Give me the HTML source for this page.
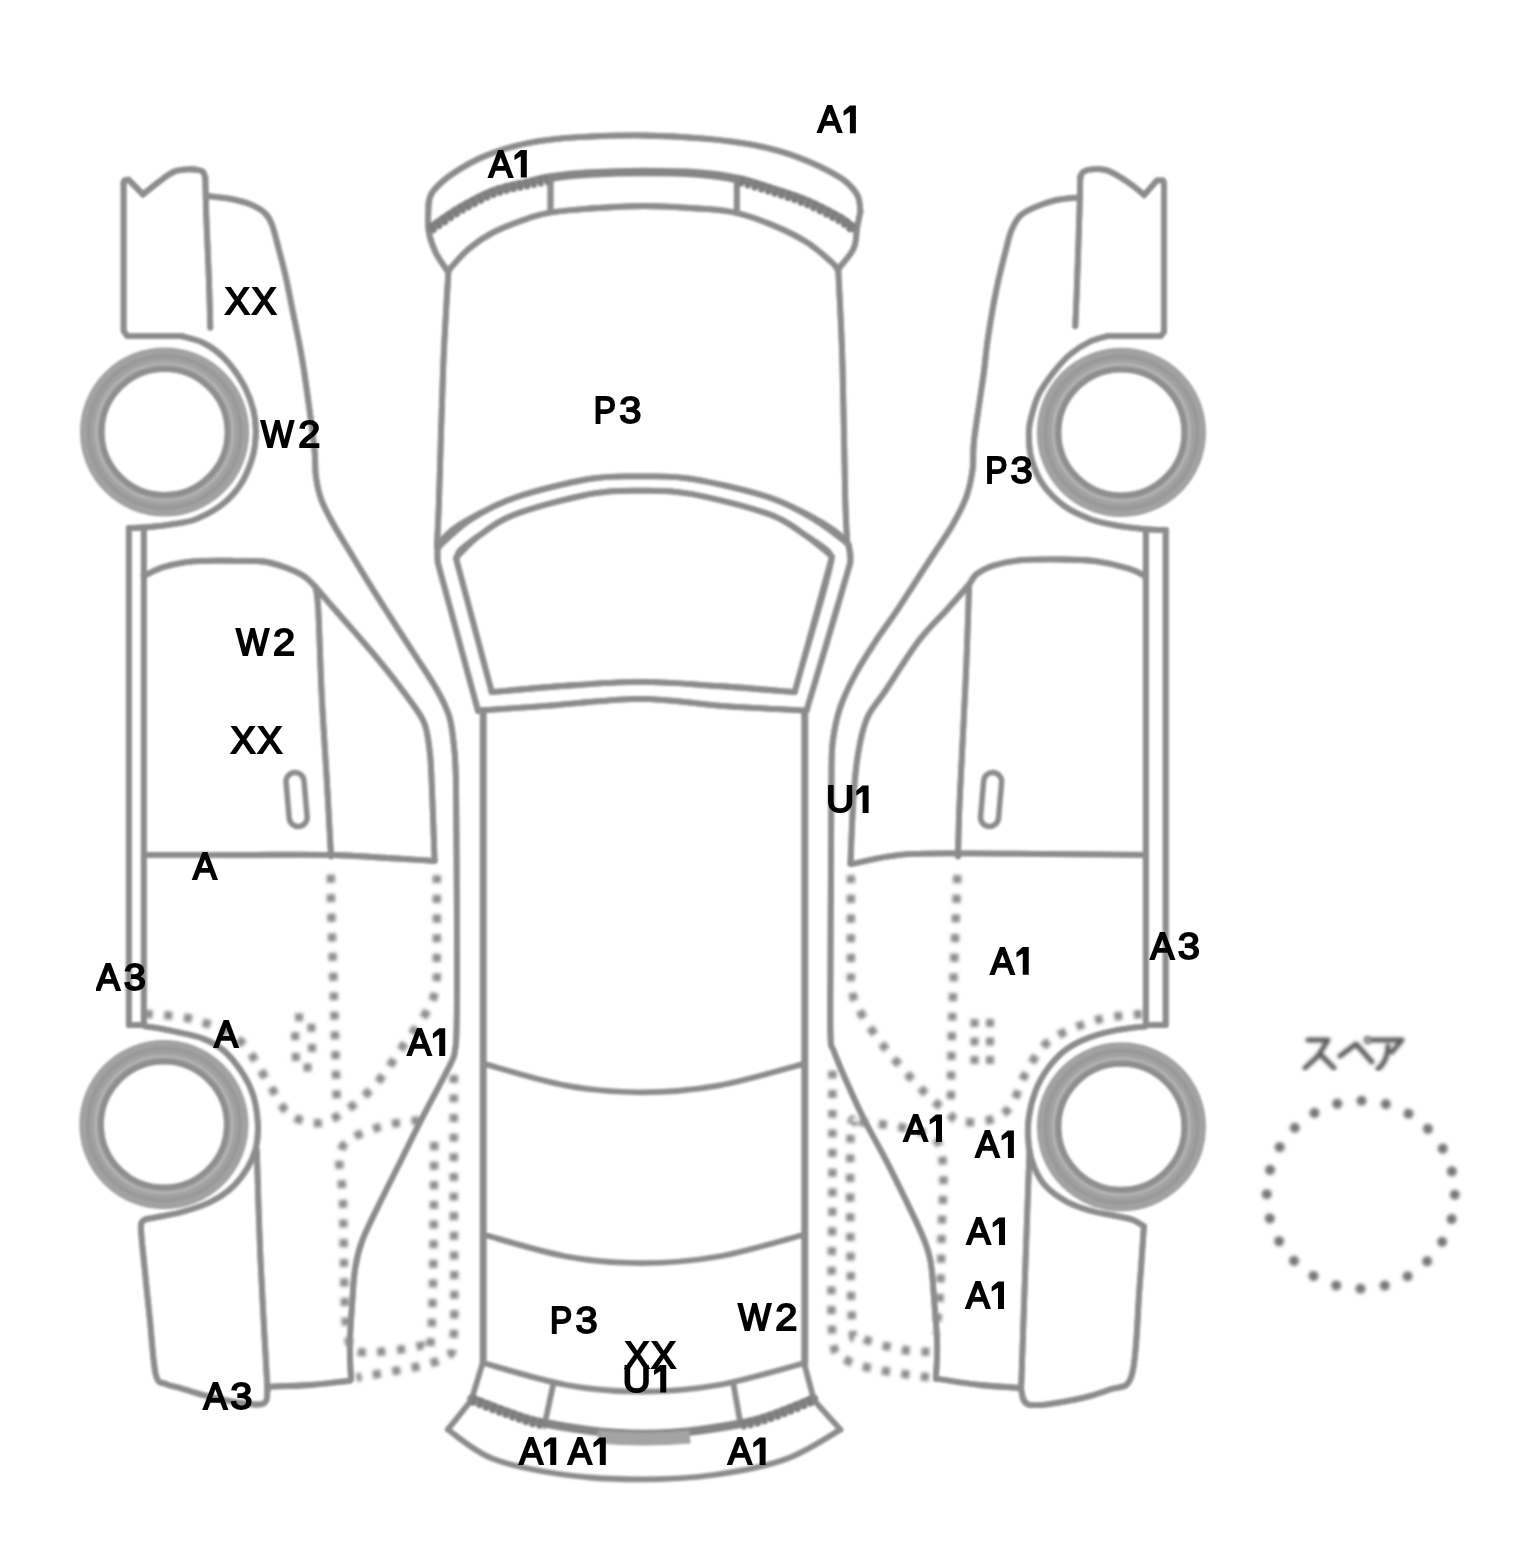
<!DOCTYPE html>
<html><head><meta charset="utf-8"><title>Car diagram</title>
<style>
html,body{margin:0;padding:0;background:#fff;}
body{width:1536px;height:1568px;overflow:hidden;position:relative;font-family:"Liberation Sans",sans-serif;}
svg{position:absolute;left:0;top:0;display:block;}
.lb{font-family:"Liberation Sans",sans-serif;font-weight:normal;font-size:37.35px;fill:#000;}
.lb text{stroke:#000;stroke-width:1.9px;vector-effect:non-scaling-stroke;}
</style></head><body>
<svg width="1536" height="1568" viewBox="0 0 1536 1568">
<defs><filter id="bl" x="-5%" y="-5%" width="110%" height="110%"><feGaussianBlur stdDeviation="1.2"/></filter><filter id="gs" x="0" y="0" width="1" height="1"><feOffset dx="0" dy="0"/></filter><filter id="bd" x="-5%" y="-5%" width="110%" height="110%"><feGaussianBlur stdDeviation="1.5"/></filter></defs>
<g filter="url(#bl)" fill="none" stroke-linecap="round" stroke-linejoin="round">

<g stroke="#8c8c8c" stroke-width="5.8">
<path d="M210.3 327.7 C210.1 319.6 209.4 293.0 208.9 278.9 C208.4 264.8 207.9 255.0 207.4 243.1 C206.9 231.2 206.3 218.3 206.0 207.3 C205.7 196.3 205.4 182.2 205.3 177.2"/>
<path d="M205.3 178.0 C205.0 177.1 204.3 173.8 203.5 172.5 C202.7 171.2 202.8 171.0 200.3 170.5 C197.9 170.0 193.1 169.1 188.8 169.3 C184.5 169.5 179.3 169.6 174.5 171.5 C169.7 173.4 165.4 177.0 160.2 180.8 C154.9 184.6 145.9 192.1 143.0 194.4"/>
<path d="M143.0 194.4 L128.5 179.6 L124.2 180.6 L123.6 183.0"/>
<path d="M123.6 183.0 L123.6 331.0 L127.5 336.2 L181.8 336.2"/>
<path d="M181.8 336.2 C185.4 337.3 196.1 339.1 203.3 342.9 C210.5 346.6 218.1 351.8 224.8 358.7 C231.5 365.6 238.6 375.8 243.4 384.4 C248.2 393.0 251.3 402.1 253.4 410.2 C255.5 418.3 256.0 425.1 255.8 433.2 C255.6 441.3 254.6 450.3 252.0 458.9 C249.4 467.5 245.5 477.0 240.5 484.7 C235.5 492.4 229.3 499.1 221.9 504.8 C214.5 510.5 204.0 515.9 196.1 519.1 C188.2 522.3 182.3 522.6 174.6 523.9 C166.9 525.2 157.6 526.3 150.0 527.0 C142.4 527.7 132.3 528.0 128.8 528.2"/>
<path d="M128.8 528.2 L128.8 1025.0 L143.8 1025.0"/>
<path d="M143.8 531.0 L143.8 1025.0"/>
<path d="M206.0 195.8 C209.8 196.3 221.5 197.3 228.9 198.7 C236.3 200.1 244.4 202.0 250.4 204.4 C256.4 206.8 261.2 209.7 264.8 213.0 C268.4 216.3 269.5 218.3 271.9 224.5 C274.3 230.7 276.7 241.2 279.1 250.3 C281.5 259.4 284.1 269.3 286.2 278.9 C288.3 288.4 289.6 295.7 292.0 307.6 C294.4 319.6 298.4 338.4 300.6 350.6 C302.9 362.8 303.2 364.7 305.5 381.0 C307.8 397.3 312.7 432.8 314.4 448.6 C316.1 464.4 314.6 467.2 315.8 475.8 C317.0 484.4 318.4 491.8 321.5 500.2 C324.6 508.6 329.4 516.9 334.4 526.0 C339.4 535.1 345.4 544.3 351.6 554.6 C357.8 564.9 365.0 576.9 371.7 587.6 C378.4 598.4 384.8 608.2 391.7 619.1 C398.6 630.0 405.9 641.1 413.4 652.7 C420.9 664.4 430.6 678.5 436.5 689.0 C442.4 699.5 446.2 706.8 449.0 715.6 C451.8 724.4 452.4 732.1 453.5 742.0 C454.6 751.9 455.3 755.3 455.8 775.0 C456.3 794.7 456.4 827.5 456.6 860.0 C456.8 892.5 457.0 941.3 457.0 970.0 C457.0 998.7 456.8 1018.7 456.5 1032.0 C456.2 1045.3 456.0 1044.7 455.0 1050.0 C454.0 1055.3 456.0 1052.6 450.6 1063.8 C445.2 1075.0 430.6 1101.7 422.5 1117.4 C414.4 1133.1 408.9 1144.6 402.1 1158.2 C395.3 1171.8 388.3 1185.5 381.7 1199.1 C375.1 1212.7 366.9 1228.4 362.5 1239.9 C358.1 1251.4 356.9 1256.9 355.2 1268.0 C353.4 1279.1 352.9 1293.5 352.0 1306.3 C351.1 1319.1 350.0 1332.5 349.8 1344.6 C349.6 1356.7 350.8 1373.3 351.0 1379.0"/>
<path d="M143.6 575.9 C146.8 574.5 156.2 569.6 163.0 567.3 C169.8 565.0 177.3 563.4 184.5 562.3 C191.7 561.2 197.7 561.0 206.0 560.8 C214.3 560.5 225.0 560.7 234.6 560.8 C244.2 560.9 254.9 560.4 263.3 561.5 C271.7 562.6 278.1 564.9 284.8 567.3 C291.5 569.7 298.3 572.6 303.4 575.9 C308.5 579.2 313.5 585.1 315.5 587.0"/>
<path d="M315.5 587.0 C316.0 590.8 317.3 592.1 318.3 610.0 C319.3 627.9 320.3 666.3 321.7 694.6 C323.1 722.9 325.2 753.0 326.8 780.0 C328.4 807.0 330.3 843.7 331.0 856.4"/>
<path d="M315.5 587.0 C318.8 590.8 324.7 597.7 335.3 610.0 C345.9 622.3 366.3 645.0 379.3 660.8 C392.3 676.6 405.5 694.1 413.1 704.8 C420.7 715.5 422.2 716.9 425.0 725.1 C427.8 733.3 428.8 743.1 430.0 753.9 C431.2 764.7 431.2 772.1 432.0 790.0 C432.8 807.9 434.2 849.2 434.6 861.0"/>
<path d="M143.9 854.9 C159.9 854.9 209.1 855.0 240.0 855.0 C270.9 855.0 297.1 853.9 329.5 854.9 C361.9 855.9 416.9 859.9 434.4 860.9"/>
<path d="M143.8 1025.8 C148.9 1026.8 164.7 1029.3 174.6 1031.5 C184.5 1033.7 194.9 1035.4 203.3 1038.7 C211.7 1042.0 218.1 1045.5 224.8 1051.5 C231.5 1057.5 238.6 1067.1 243.4 1074.5 C248.2 1081.9 251.0 1088.1 253.4 1096.0 C255.8 1103.9 257.2 1113.4 257.7 1121.7 C258.2 1130.0 258.0 1138.4 256.3 1146.1 C254.6 1153.8 251.8 1160.7 247.7 1167.6 C243.6 1174.5 238.1 1182.0 231.9 1187.7 C225.7 1193.4 218.8 1198.0 210.4 1202.0 C202.1 1206.0 192.5 1209.1 181.8 1212.0 C171.1 1214.9 152.0 1218.0 146.0 1219.2"/>
<path d="M146.0 1219.2 C145.2 1220.3 141.3 1218.9 141.0 1226.0 C140.7 1233.1 142.5 1246.5 144.0 1262.0 C145.5 1277.5 147.8 1300.2 149.8 1319.0 C151.8 1337.8 153.1 1363.8 155.8 1374.6 C158.5 1385.4 162.0 1381.8 166.0 1384.0 C170.0 1386.2 173.8 1386.2 180.0 1388.0 C186.2 1389.8 193.8 1392.7 203.0 1395.0 C212.2 1397.3 225.8 1400.4 235.0 1402.0 C244.2 1403.6 252.8 1404.7 258.0 1404.5 C263.2 1404.3 264.4 1403.5 266.0 1401.0 C267.6 1398.5 267.2 1391.5 267.5 1389.6"/>
<path d="M267.5 1389.6 C266.3 1367.9 262.3 1299.3 260.5 1259.4 C258.7 1219.5 257.4 1168.2 256.8 1150.0"/>
<path d="M267.5 1386.6 C274.6 1386.3 296.2 1386.0 310.0 1385.0 C323.8 1384.0 343.8 1381.3 350.5 1380.6"/>
<path d="M1075.3 326.2 C1075.5 320.7 1076.2 305.9 1076.7 293.3 C1077.2 280.7 1077.7 264.6 1078.2 250.3 C1078.7 236.0 1079.2 219.5 1079.6 207.3 C1079.9 195.1 1080.2 182.2 1080.3 177.2"/>
<path d="M1080.3 178.0 C1080.5 177.3 1080.9 175.1 1081.5 174.0 C1082.1 172.9 1082.3 172.1 1084.0 171.3 C1085.7 170.5 1088.1 169.5 1091.8 169.3 C1095.5 169.1 1101.3 168.8 1106.1 170.1 C1110.9 171.4 1115.6 174.3 1120.4 177.2 C1125.2 180.0 1130.8 184.2 1134.8 187.2 C1138.8 190.2 1142.5 193.8 1144.1 195.1"/>
<path d="M1144.1 195.1 L1157.0 180.4 L1163.0 180.4 L1164.0 183.0 L1164.0 332.0 L1160.5 336.2 L1107.4 336.2"/>
<path d="M1107.4 336.2 C1104.5 337.1 1096.4 338.5 1090.2 341.5 C1084.0 344.5 1076.4 349.1 1070.2 354.4 C1064.0 359.6 1058.2 366.3 1053.0 373.0 C1047.8 379.7 1042.3 387.3 1038.7 394.5 C1035.1 401.7 1033.2 409.6 1031.5 416.0 C1029.8 422.4 1028.8 426.1 1028.8 433.2 C1028.8 440.3 1029.1 450.3 1031.5 458.9 C1033.9 467.5 1037.5 476.8 1043.0 484.7 C1048.5 492.6 1056.5 500.5 1064.4 506.2 C1072.3 511.9 1082.1 516.0 1090.2 519.1 C1098.3 522.2 1104.1 523.1 1113.2 524.8 C1122.3 526.5 1136.0 528.2 1144.7 529.1 C1153.5 530.0 1162.2 529.9 1165.7 530.0"/>
<path d="M1165.7 530.0 L1165.7 1025.0 L1145.8 1025.0"/>
<path d="M1145.8 532.0 L1145.8 1025.0"/>
<path d="M1078.9 197.3 C1075.1 197.8 1063.4 198.4 1056.0 200.1 C1048.6 201.8 1040.5 204.7 1034.5 207.3 C1028.5 209.9 1023.9 212.1 1020.1 215.9 C1016.3 219.7 1013.9 224.5 1011.5 230.2 C1009.1 235.9 1007.9 242.2 1005.8 250.3 C1003.7 258.4 1000.9 269.3 998.7 278.9 C996.6 288.4 994.8 296.9 992.9 307.6 C991.0 318.4 988.8 332.2 987.2 343.4 C985.6 354.6 985.7 358.9 983.5 375.0 C981.3 391.1 975.9 424.4 974.1 440.0 C972.3 455.6 974.0 459.1 972.7 468.7 C971.4 478.2 969.7 487.8 966.2 497.3 C962.7 506.9 957.4 516.5 951.9 526.0 C946.4 535.5 939.5 545.1 933.3 554.6 C927.1 564.1 920.8 573.8 914.6 583.3 C908.4 592.8 902.4 602.3 896.0 611.9 C889.6 621.5 882.9 630.1 876.0 640.6 C869.1 651.1 860.9 663.8 854.9 675.0 C848.9 686.2 843.6 697.2 840.0 708.0 C836.4 718.8 834.4 729.4 833.0 739.6 C831.6 749.9 831.8 749.5 831.5 769.5 C831.2 789.5 831.2 827.6 831.0 859.4 C830.8 891.1 830.6 930.6 830.5 960.0 C830.4 989.4 830.0 1020.8 830.5 1036.0 C831.0 1051.2 831.1 1043.4 833.8 1051.0 C836.5 1058.6 841.5 1070.2 846.6 1081.7 C851.7 1093.2 858.0 1107.2 864.4 1120.0 C870.8 1132.8 878.1 1145.0 884.9 1158.2 C891.7 1171.4 898.9 1185.9 905.3 1199.1 C911.7 1212.3 918.9 1226.8 923.1 1237.4 C927.4 1248.0 928.9 1251.4 930.8 1262.9 C932.7 1274.4 933.5 1292.7 934.6 1306.3 C935.7 1319.9 937.0 1332.5 937.2 1344.6 C937.4 1356.7 936.1 1373.3 935.9 1379.0"/>
<path d="M1145.5 576.5 C1142.8 575.2 1137.6 571.3 1129.3 568.8 C1121.0 566.2 1106.7 562.8 1095.4 561.2 C1084.1 559.7 1074.3 559.6 1061.6 559.5 C1048.9 559.4 1030.5 559.3 1019.2 560.3 C1007.9 561.3 1001.0 563.1 993.9 565.4 C986.8 567.7 981.0 570.8 976.9 573.9 C972.8 577.0 970.7 582.3 969.5 584.0"/>
<path d="M969.1 586.0 C968.5 601.6 967.3 644.1 965.7 679.7 C964.1 715.3 961.0 770.0 959.7 799.5 C958.4 829.0 958.3 846.9 958.0 856.4"/>
<path d="M969.5 584.0 C965.9 588.2 956.0 599.6 947.6 609.0 C939.2 618.4 929.4 626.8 918.9 640.6 C908.4 654.4 893.5 678.7 884.8 691.7 C876.1 704.7 871.4 708.1 866.9 718.6 C862.4 729.1 860.1 741.1 857.9 754.6 C855.6 768.1 854.6 781.3 853.4 799.5 C852.1 817.7 850.9 853.2 850.4 863.9"/>
<path d="M851.9 863.9 C859.9 862.4 881.8 856.6 899.8 854.9 C917.8 853.1 934.7 853.5 959.7 853.4 C984.7 853.2 1019.0 853.8 1050.0 854.0 C1081.0 854.2 1129.5 854.8 1145.4 854.9"/>
<path d="M1145.8 1026.3 C1141.1 1026.9 1126.7 1028.2 1117.4 1030.0 C1108.1 1031.8 1098.6 1034.1 1090.2 1037.2 C1081.8 1040.3 1074.2 1043.7 1067.3 1048.7 C1060.4 1053.7 1054.0 1060.4 1048.7 1067.3 C1043.5 1074.2 1039.1 1081.8 1035.8 1090.2 C1032.5 1098.6 1030.0 1108.1 1028.8 1117.4 C1027.6 1126.7 1027.9 1137.7 1028.8 1146.1 C1029.7 1154.5 1031.6 1160.9 1034.4 1167.6 C1037.2 1174.3 1040.3 1180.5 1045.8 1186.2 C1051.3 1191.9 1059.9 1197.9 1067.3 1202.0 C1074.7 1206.1 1083.0 1208.4 1090.2 1210.6 C1097.4 1212.8 1103.4 1213.4 1110.3 1214.9 C1117.2 1216.4 1126.2 1217.6 1131.8 1219.5 C1137.4 1221.4 1141.9 1225.2 1143.9 1226.4"/>
<path d="M1143.9 1226.4 C1143.2 1236.9 1141.4 1264.6 1139.4 1289.3 C1137.4 1314.0 1136.9 1357.9 1131.9 1374.6 C1126.9 1391.3 1120.6 1385.1 1109.4 1389.6 C1098.2 1394.1 1078.0 1399.1 1064.5 1401.6 C1051.0 1404.1 1035.8 1406.6 1028.6 1404.6 C1021.4 1402.6 1022.4 1392.1 1021.1 1389.6"/>
<path d="M1021.1 1389.6 C1021.9 1367.9 1024.2 1299.3 1025.6 1259.4 C1027.0 1219.5 1028.8 1168.2 1029.5 1150.0"/>
<path d="M1021.1 1388.0 C1014.2 1387.5 993.7 1386.5 980.0 1385.0 C966.3 1383.5 945.6 1380.0 938.7 1379.0"/>
<path d="M428.6 205.0 C429.2 202.8 428.6 197.2 432.5 192.0 C436.4 186.8 443.4 180.1 452.3 174.0 C461.2 167.9 473.5 160.7 486.2 155.5 C498.9 150.3 513.0 146.1 528.5 143.0 C544.0 139.9 560.0 138.4 579.3 137.2 C598.5 135.9 623.1 135.3 644.0 135.5 C664.9 135.7 686.0 136.9 704.6 138.6 C723.2 140.2 739.9 142.3 755.4 145.4 C770.9 148.5 783.6 151.8 797.7 157.2 C811.8 162.5 830.1 171.3 840.0 177.5 C849.9 183.7 853.6 188.8 857.0 194.5 C860.4 200.2 859.8 208.6 860.4 211.4"/>
<path d="M428.6 203.0 C428.6 207.5 427.5 221.8 428.6 230.0 C429.7 238.2 432.3 245.2 435.4 252.0 C438.5 258.8 445.2 267.5 447.2 270.6"/>
<path d="M860.4 211.4 C859.8 214.2 858.1 222.1 857.0 228.3 C855.9 234.5 856.7 241.8 853.6 248.6 C850.5 255.4 840.8 265.6 838.3 269.0"/>
<path d="M449.8 269.0 C453.0 265.6 461.7 254.8 469.2 248.6 C476.7 242.4 484.7 236.8 494.6 231.7 C504.5 226.6 519.2 221.4 528.5 218.2 C537.8 215.0 540.2 214.1 550.5 212.5 C560.8 210.9 574.4 209.6 590.0 208.5 C605.6 207.4 626.0 206.0 644.0 206.0 C662.0 206.0 682.5 207.3 698.0 208.5 C713.5 209.7 724.4 210.2 736.8 213.0 C749.2 215.8 760.7 220.2 772.3 225.0 C783.9 229.8 796.3 235.7 806.2 241.9 C816.1 248.1 826.2 257.4 831.6 262.2 C837.0 267.0 837.2 269.2 838.3 270.6"/>
<path d="M550.5 178.0 L550.5 211.5"/>
<path d="M736.8 179.0 L736.8 213.0"/>
<path d="M448.5 270.6 C447.6 286.3 444.9 326.5 443.3 364.7 C441.7 402.9 440.1 469.6 439.0 500.0 C437.9 530.5 437.2 539.5 436.9 547.4"/>
<path d="M838.3 270.6 C839.0 286.3 841.4 326.9 842.5 364.7 C843.6 402.5 844.4 467.6 845.2 497.3 C846.0 527.0 846.9 535.4 847.3 543.0"/>
<path d="M478.0 710.7 C476.6 705.8 473.9 696.0 469.9 681.0 C465.8 666.0 458.3 638.2 453.7 621.0 C449.1 603.8 444.6 587.8 442.0 578.0 C439.4 568.2 438.7 566.5 438.0 562.0 C437.3 557.5 437.1 554.4 437.6 551.0 C438.1 547.6 438.6 545.0 441.0 541.5 C443.4 538.0 447.2 533.8 452.0 530.0 C456.8 526.2 459.4 523.9 470.0 518.5 C480.6 513.1 495.4 504.0 515.4 497.4 C535.4 490.8 569.1 482.3 590.0 478.8 C610.9 475.3 623.8 476.4 640.7 476.4 C657.6 476.4 670.0 475.3 691.4 478.8 C712.8 482.3 748.7 490.8 769.3 497.4 C789.9 504.0 804.0 512.9 815.0 518.5 C826.0 524.1 829.8 527.2 835.0 531.0 C840.2 534.8 843.5 538.2 846.0 541.5 C848.5 544.8 849.3 547.6 850.0 551.0 C850.7 554.4 850.9 557.5 850.2 562.0 C849.5 566.5 848.8 568.2 846.0 578.0 C843.2 587.8 838.6 603.8 833.5 621.0 C828.4 638.2 820.0 666.0 815.5 681.0 C811.0 696.0 808.0 705.8 806.5 710.7"/>
<path d="M806.5 710.7 C791.8 709.9 746.1 707.6 718.5 705.6 C690.9 703.6 669.0 698.8 640.7 698.8 C612.5 698.8 576.1 703.6 549.0 705.6 C521.9 707.6 489.8 709.9 478.0 710.7"/>
<path d="M491.7 692.0 C490.4 687.2 487.9 677.8 484.0 663.0 C480.1 648.2 472.2 618.8 468.0 603.0 C463.8 587.2 460.4 575.3 458.5 568.0 C456.6 560.7 456.4 561.8 456.5 559.0 C456.6 556.2 457.1 554.1 459.0 551.5 C460.9 548.9 464.5 546.2 468.0 543.5 C471.5 540.8 472.1 539.9 480.0 535.0 C487.9 530.1 497.1 521.1 515.4 514.3 C533.7 507.5 569.1 497.9 590.0 494.0 C610.9 490.1 623.8 490.6 640.7 490.6 C657.6 490.6 670.0 490.1 691.4 494.0 C712.8 497.9 750.4 507.5 769.3 514.3 C788.2 521.1 796.9 530.1 805.0 535.0 C813.1 539.9 814.1 540.8 818.0 543.5 C821.9 546.2 826.2 549.1 828.5 551.5 C830.8 553.9 831.2 555.4 831.5 558.0 C831.8 560.6 831.8 559.5 830.0 567.0 C828.2 574.5 825.0 587.0 820.5 603.0 C816.0 619.0 807.3 648.2 803.0 663.0 C798.7 677.8 796.1 687.2 794.7 692.0"/>
<path d="M794.7 692.0 C781.9 691.0 743.7 687.7 718.0 686.0 C692.3 684.3 666.5 681.9 640.7 681.9 C614.9 681.9 587.8 684.3 563.0 686.0 C538.2 687.7 503.6 691.0 491.7 692.0"/>
<path d="M210.3 327.7 C210.1 319.6 209.4 293.0 208.9 278.9 C208.4 264.8 207.9 255.0 207.4 243.1 C206.9 231.2 206.3 218.3 206.0 207.3 C205.7 196.3 205.4 182.2 205.3 177.2"/>
<path d="M205.3 178.0 C205.0 177.1 204.3 173.8 203.5 172.5 C202.7 171.2 202.8 171.0 200.3 170.5 C197.9 170.0 193.1 169.1 188.8 169.3 C184.5 169.5 179.3 169.6 174.5 171.5 C169.7 173.4 165.4 177.0 160.2 180.8 C154.9 184.6 145.9 192.1 143.0 194.4"/>
<path d="M143.0 194.4 L128.5 179.6 L124.2 180.6 L123.6 183.0"/>
<path d="M123.6 183.0 L123.6 331.0 L127.5 336.2 L181.8 336.2"/>
<path d="M181.8 336.2 C185.4 337.3 196.1 339.1 203.3 342.9 C210.5 346.6 218.1 351.8 224.8 358.7 C231.5 365.6 238.6 375.8 243.4 384.4 C248.2 393.0 251.3 402.1 253.4 410.2 C255.5 418.3 256.0 425.1 255.8 433.2 C255.6 441.3 254.6 450.3 252.0 458.9 C249.4 467.5 245.5 477.0 240.5 484.7 C235.5 492.4 229.3 499.1 221.9 504.8 C214.5 510.5 204.0 515.9 196.1 519.1 C188.2 522.3 182.3 522.6 174.6 523.9 C166.9 525.2 157.6 526.3 150.0 527.0 C142.4 527.7 132.3 528.0 128.8 528.2"/>
<path d="M128.8 528.2 L128.8 1025.0 L143.8 1025.0"/>
<path d="M143.8 531.0 L143.8 1025.0"/>
<path d="M206.0 195.8 C209.8 196.3 221.5 197.3 228.9 198.7 C236.3 200.1 244.4 202.0 250.4 204.4 C256.4 206.8 261.2 209.7 264.8 213.0 C268.4 216.3 269.5 218.3 271.9 224.5 C274.3 230.7 276.7 241.2 279.1 250.3 C281.5 259.4 284.1 269.3 286.2 278.9 C288.3 288.4 289.6 295.7 292.0 307.6 C294.4 319.6 298.4 338.4 300.6 350.6 C302.9 362.8 303.2 364.7 305.5 381.0 C307.8 397.3 312.7 432.8 314.4 448.6 C316.1 464.4 314.6 467.2 315.8 475.8 C317.0 484.4 318.4 491.8 321.5 500.2 C324.6 508.6 329.4 516.9 334.4 526.0 C339.4 535.1 345.4 544.3 351.6 554.6 C357.8 564.9 365.0 576.9 371.7 587.6 C378.4 598.4 384.8 608.2 391.7 619.1 C398.6 630.0 405.9 641.1 413.4 652.7 C420.9 664.4 430.6 678.5 436.5 689.0 C442.4 699.5 446.2 706.8 449.0 715.6 C451.8 724.4 452.4 732.1 453.5 742.0 C454.6 751.9 455.3 755.3 455.8 775.0 C456.3 794.7 456.4 827.5 456.6 860.0 C456.8 892.5 457.0 941.3 457.0 970.0 C457.0 998.7 456.8 1018.7 456.5 1032.0 C456.2 1045.3 456.0 1044.7 455.0 1050.0 C454.0 1055.3 456.0 1052.6 450.6 1063.8 C445.2 1075.0 430.6 1101.7 422.5 1117.4 C414.4 1133.1 408.9 1144.6 402.1 1158.2 C395.3 1171.8 388.3 1185.5 381.7 1199.1 C375.1 1212.7 366.9 1228.4 362.5 1239.9 C358.1 1251.4 356.9 1256.9 355.2 1268.0 C353.4 1279.1 352.9 1293.5 352.0 1306.3 C351.1 1319.1 350.0 1332.5 349.8 1344.6 C349.6 1356.7 350.8 1373.3 351.0 1379.0"/>
<path d="M143.6 575.9 C146.8 574.5 156.2 569.6 163.0 567.3 C169.8 565.0 177.3 563.4 184.5 562.3 C191.7 561.2 197.7 561.0 206.0 560.8 C214.3 560.5 225.0 560.7 234.6 560.8 C244.2 560.9 254.9 560.4 263.3 561.5 C271.7 562.6 278.1 564.9 284.8 567.3 C291.5 569.7 298.3 572.6 303.4 575.9 C308.5 579.2 313.5 585.1 315.5 587.0"/>
<path d="M315.5 587.0 C316.0 590.8 317.3 592.1 318.3 610.0 C319.3 627.9 320.3 666.3 321.7 694.6 C323.1 722.9 325.2 753.0 326.8 780.0 C328.4 807.0 330.3 843.7 331.0 856.4"/>
<path d="M315.5 587.0 C318.8 590.8 324.7 597.7 335.3 610.0 C345.9 622.3 366.3 645.0 379.3 660.8 C392.3 676.6 405.5 694.1 413.1 704.8 C420.7 715.5 422.2 716.9 425.0 725.1 C427.8 733.3 428.8 743.1 430.0 753.9 C431.2 764.7 431.2 772.1 432.0 790.0 C432.8 807.9 434.2 849.2 434.6 861.0"/>
<path d="M143.9 854.9 C159.9 854.9 209.1 855.0 240.0 855.0 C270.9 855.0 297.1 853.9 329.5 854.9 C361.9 855.9 416.9 859.9 434.4 860.9"/>
<path d="M143.8 1025.8 C148.9 1026.8 164.7 1029.3 174.6 1031.5 C184.5 1033.7 194.9 1035.4 203.3 1038.7 C211.7 1042.0 218.1 1045.5 224.8 1051.5 C231.5 1057.5 238.6 1067.1 243.4 1074.5 C248.2 1081.9 251.0 1088.1 253.4 1096.0 C255.8 1103.9 257.2 1113.4 257.7 1121.7 C258.2 1130.0 258.0 1138.4 256.3 1146.1 C254.6 1153.8 251.8 1160.7 247.7 1167.6 C243.6 1174.5 238.1 1182.0 231.9 1187.7 C225.7 1193.4 218.8 1198.0 210.4 1202.0 C202.1 1206.0 192.5 1209.1 181.8 1212.0 C171.1 1214.9 152.0 1218.0 146.0 1219.2"/>
<path d="M146.0 1219.2 C145.2 1220.3 141.3 1218.9 141.0 1226.0 C140.7 1233.1 142.5 1246.5 144.0 1262.0 C145.5 1277.5 147.8 1300.2 149.8 1319.0 C151.8 1337.8 153.1 1363.8 155.8 1374.6 C158.5 1385.4 162.0 1381.8 166.0 1384.0 C170.0 1386.2 173.8 1386.2 180.0 1388.0 C186.2 1389.8 193.8 1392.7 203.0 1395.0 C212.2 1397.3 225.8 1400.4 235.0 1402.0 C244.2 1403.6 252.8 1404.7 258.0 1404.5 C263.2 1404.3 264.4 1403.5 266.0 1401.0 C267.6 1398.5 267.2 1391.5 267.5 1389.6"/>
<path d="M267.5 1389.6 C266.3 1367.9 262.3 1299.3 260.5 1259.4 C258.7 1219.5 257.4 1168.2 256.8 1150.0"/>
<path d="M267.5 1386.6 C274.6 1386.3 296.2 1386.0 310.0 1385.0 C323.8 1384.0 343.8 1381.3 350.5 1380.6"/>
<path d="M1075.3 326.2 C1075.5 320.7 1076.2 305.9 1076.7 293.3 C1077.2 280.7 1077.7 264.6 1078.2 250.3 C1078.7 236.0 1079.2 219.5 1079.6 207.3 C1079.9 195.1 1080.2 182.2 1080.3 177.2"/>
<path d="M1080.3 178.0 C1080.5 177.3 1080.9 175.1 1081.5 174.0 C1082.1 172.9 1082.3 172.1 1084.0 171.3 C1085.7 170.5 1088.1 169.5 1091.8 169.3 C1095.5 169.1 1101.3 168.8 1106.1 170.1 C1110.9 171.4 1115.6 174.3 1120.4 177.2 C1125.2 180.0 1130.8 184.2 1134.8 187.2 C1138.8 190.2 1142.5 193.8 1144.1 195.1"/>
<path d="M1144.1 195.1 L1157.0 180.4 L1163.0 180.4 L1164.0 183.0 L1164.0 332.0 L1160.5 336.2 L1107.4 336.2"/>
<path d="M1107.4 336.2 C1104.5 337.1 1096.4 338.5 1090.2 341.5 C1084.0 344.5 1076.4 349.1 1070.2 354.4 C1064.0 359.6 1058.2 366.3 1053.0 373.0 C1047.8 379.7 1042.3 387.3 1038.7 394.5 C1035.1 401.7 1033.2 409.6 1031.5 416.0 C1029.8 422.4 1028.8 426.1 1028.8 433.2 C1028.8 440.3 1029.1 450.3 1031.5 458.9 C1033.9 467.5 1037.5 476.8 1043.0 484.7 C1048.5 492.6 1056.5 500.5 1064.4 506.2 C1072.3 511.9 1082.1 516.0 1090.2 519.1 C1098.3 522.2 1104.1 523.1 1113.2 524.8 C1122.3 526.5 1136.0 528.2 1144.7 529.1 C1153.5 530.0 1162.2 529.9 1165.7 530.0"/>
<path d="M1165.7 530.0 L1165.7 1025.0 L1145.8 1025.0"/>
<path d="M1145.8 532.0 L1145.8 1025.0"/>
<path d="M1078.9 197.3 C1075.1 197.8 1063.4 198.4 1056.0 200.1 C1048.6 201.8 1040.5 204.7 1034.5 207.3 C1028.5 209.9 1023.9 212.1 1020.1 215.9 C1016.3 219.7 1013.9 224.5 1011.5 230.2 C1009.1 235.9 1007.9 242.2 1005.8 250.3 C1003.7 258.4 1000.9 269.3 998.7 278.9 C996.6 288.4 994.8 296.9 992.9 307.6 C991.0 318.4 988.8 332.2 987.2 343.4 C985.6 354.6 985.7 358.9 983.5 375.0 C981.3 391.1 975.9 424.4 974.1 440.0 C972.3 455.6 974.0 459.1 972.7 468.7 C971.4 478.2 969.7 487.8 966.2 497.3 C962.7 506.9 957.4 516.5 951.9 526.0 C946.4 535.5 939.5 545.1 933.3 554.6 C927.1 564.1 920.8 573.8 914.6 583.3 C908.4 592.8 902.4 602.3 896.0 611.9 C889.6 621.5 882.9 630.1 876.0 640.6 C869.1 651.1 860.9 663.8 854.9 675.0 C848.9 686.2 843.6 697.2 840.0 708.0 C836.4 718.8 834.4 729.4 833.0 739.6 C831.6 749.9 831.8 749.5 831.5 769.5 C831.2 789.5 831.2 827.6 831.0 859.4 C830.8 891.1 830.6 930.6 830.5 960.0 C830.4 989.4 830.0 1020.8 830.5 1036.0 C831.0 1051.2 831.1 1043.4 833.8 1051.0 C836.5 1058.6 841.5 1070.2 846.6 1081.7 C851.7 1093.2 858.0 1107.2 864.4 1120.0 C870.8 1132.8 878.1 1145.0 884.9 1158.2 C891.7 1171.4 898.9 1185.9 905.3 1199.1 C911.7 1212.3 918.9 1226.8 923.1 1237.4 C927.4 1248.0 928.9 1251.4 930.8 1262.9 C932.7 1274.4 933.5 1292.7 934.6 1306.3 C935.7 1319.9 937.0 1332.5 937.2 1344.6 C937.4 1356.7 936.1 1373.3 935.9 1379.0"/>
<path d="M1145.5 576.5 C1142.8 575.2 1137.6 571.3 1129.3 568.8 C1121.0 566.2 1106.7 562.8 1095.4 561.2 C1084.1 559.7 1074.3 559.6 1061.6 559.5 C1048.9 559.4 1030.5 559.3 1019.2 560.3 C1007.9 561.3 1001.0 563.1 993.9 565.4 C986.8 567.7 981.0 570.8 976.9 573.9 C972.8 577.0 970.7 582.3 969.5 584.0"/>
<path d="M969.1 586.0 C968.5 601.6 967.3 644.1 965.7 679.7 C964.1 715.3 961.0 770.0 959.7 799.5 C958.4 829.0 958.3 846.9 958.0 856.4"/>
<path d="M969.5 584.0 C965.9 588.2 956.0 599.6 947.6 609.0 C939.2 618.4 929.4 626.8 918.9 640.6 C908.4 654.4 893.5 678.7 884.8 691.7 C876.1 704.7 871.4 708.1 866.9 718.6 C862.4 729.1 860.1 741.1 857.9 754.6 C855.6 768.1 854.6 781.3 853.4 799.5 C852.1 817.7 850.9 853.2 850.4 863.9"/>
<path d="M851.9 863.9 C859.9 862.4 881.8 856.6 899.8 854.9 C917.8 853.1 934.7 853.5 959.7 853.4 C984.7 853.2 1019.0 853.8 1050.0 854.0 C1081.0 854.2 1129.5 854.8 1145.4 854.9"/>
<path d="M1145.8 1026.3 C1141.1 1026.9 1126.7 1028.2 1117.4 1030.0 C1108.1 1031.8 1098.6 1034.1 1090.2 1037.2 C1081.8 1040.3 1074.2 1043.7 1067.3 1048.7 C1060.4 1053.7 1054.0 1060.4 1048.7 1067.3 C1043.5 1074.2 1039.1 1081.8 1035.8 1090.2 C1032.5 1098.6 1030.0 1108.1 1028.8 1117.4 C1027.6 1126.7 1027.9 1137.7 1028.8 1146.1 C1029.7 1154.5 1031.6 1160.9 1034.4 1167.6 C1037.2 1174.3 1040.3 1180.5 1045.8 1186.2 C1051.3 1191.9 1059.9 1197.9 1067.3 1202.0 C1074.7 1206.1 1083.0 1208.4 1090.2 1210.6 C1097.4 1212.8 1103.4 1213.4 1110.3 1214.9 C1117.2 1216.4 1126.2 1217.6 1131.8 1219.5 C1137.4 1221.4 1141.9 1225.2 1143.9 1226.4"/>
<path d="M1143.9 1226.4 C1143.2 1236.9 1141.4 1264.6 1139.4 1289.3 C1137.4 1314.0 1136.9 1357.9 1131.9 1374.6 C1126.9 1391.3 1120.6 1385.1 1109.4 1389.6 C1098.2 1394.1 1078.0 1399.1 1064.5 1401.6 C1051.0 1404.1 1035.8 1406.6 1028.6 1404.6 C1021.4 1402.6 1022.4 1392.1 1021.1 1389.6"/>
<path d="M1021.1 1389.6 C1021.9 1367.9 1024.2 1299.3 1025.6 1259.4 C1027.0 1219.5 1028.8 1168.2 1029.5 1150.0"/>
<path d="M1021.1 1388.0 C1014.2 1387.5 993.7 1386.5 980.0 1385.0 C966.3 1383.5 945.6 1380.0 938.7 1379.0"/>
<path d="M428.6 205.0 C429.2 202.8 428.6 197.2 432.5 192.0 C436.4 186.8 443.4 180.1 452.3 174.0 C461.2 167.9 473.5 160.7 486.2 155.5 C498.9 150.3 513.0 146.1 528.5 143.0 C544.0 139.9 560.0 138.4 579.3 137.2 C598.5 135.9 623.1 135.3 644.0 135.5 C664.9 135.7 686.0 136.9 704.6 138.6 C723.2 140.2 739.9 142.3 755.4 145.4 C770.9 148.5 783.6 151.8 797.7 157.2 C811.8 162.5 830.1 171.3 840.0 177.5 C849.9 183.7 853.6 188.8 857.0 194.5 C860.4 200.2 859.8 208.6 860.4 211.4"/>
<path d="M428.6 203.0 C428.6 207.5 427.5 221.8 428.6 230.0 C429.7 238.2 432.3 245.2 435.4 252.0 C438.5 258.8 445.2 267.5 447.2 270.6"/>
<path d="M860.4 211.4 C859.8 214.2 858.1 222.1 857.0 228.3 C855.9 234.5 856.7 241.8 853.6 248.6 C850.5 255.4 840.8 265.6 838.3 269.0"/>
<path d="M449.8 269.0 C453.0 265.6 461.7 254.8 469.2 248.6 C476.7 242.4 484.7 236.8 494.6 231.7 C504.5 226.6 519.2 221.4 528.5 218.2 C537.8 215.0 540.2 214.1 550.5 212.5 C560.8 210.9 574.4 209.6 590.0 208.5 C605.6 207.4 626.0 206.0 644.0 206.0 C662.0 206.0 682.5 207.3 698.0 208.5 C713.5 209.7 724.4 210.2 736.8 213.0 C749.2 215.8 760.7 220.2 772.3 225.0 C783.9 229.8 796.3 235.7 806.2 241.9 C816.1 248.1 826.2 257.4 831.6 262.2 C837.0 267.0 837.2 269.2 838.3 270.6"/>
<path d="M550.5 178.0 L550.5 211.5"/>
<path d="M736.8 179.0 L736.8 213.0"/>
<path d="M448.5 270.6 C447.6 286.3 444.9 326.5 443.3 364.7 C441.7 402.9 440.1 469.6 439.0 500.0 C437.9 530.5 437.2 539.5 436.9 547.4"/>
<path d="M838.3 270.6 C839.0 286.3 841.4 326.9 842.5 364.7 C843.6 402.5 844.4 467.6 845.2 497.3 C846.0 527.0 846.9 535.4 847.3 543.0"/>
<path d="M437.5 548.0 C442.9 543.3 457.0 528.4 470.0 520.0 C483.0 511.6 495.4 504.3 515.4 497.4 C535.4 490.5 569.1 482.3 590.0 478.8 C610.9 475.3 623.8 476.4 640.7 476.4 C657.6 476.4 670.0 475.3 691.4 478.8 C712.8 482.3 748.7 490.5 769.3 497.4 C789.9 504.3 801.7 512.1 815.0 520.0 C828.3 527.9 843.2 540.7 848.9 544.8"/>
<path d="M848.9 544.8 L850.5 561.7 L806.5 710.7"/>
<path d="M806.5 710.7 C791.8 709.9 746.1 707.6 718.5 705.6 C690.9 703.6 669.0 698.8 640.7 698.8 C612.5 698.8 576.1 703.6 549.0 705.6 C521.9 707.6 489.8 709.9 478.0 710.7"/>
<path d="M478.0 710.7 L437.5 561.7 L437.5 548.0"/>
<path d="M456.0 558.0 C460.0 554.2 470.1 542.3 480.0 535.0 C489.9 527.7 497.1 521.1 515.4 514.3 C533.7 507.5 569.1 497.9 590.0 494.0 C610.9 490.1 623.8 490.6 640.7 490.6 C657.6 490.6 670.0 490.1 691.4 494.0 C712.8 497.9 750.4 507.5 769.3 514.3 C788.2 521.1 794.5 528.0 805.0 535.0 C815.5 542.0 827.5 553.0 832.0 556.6"/>
<path d="M832.0 556.6 L794.7 692.0"/>
<path d="M794.7 692.0 C781.9 691.0 743.7 687.7 718.0 686.0 C692.3 684.3 666.5 681.9 640.7 681.9 C614.9 681.9 587.8 684.3 563.0 686.0 C538.2 687.7 503.6 691.0 491.7 692.0"/>
<path d="M491.7 692.0 L456.0 558.0"/>
<path d="M483.2 1063.6 C497.0 1067.3 540.0 1080.8 566.2 1085.6 C592.5 1090.4 615.3 1092.3 640.7 1092.3 C666.1 1092.3 691.1 1090.4 718.5 1085.6 C745.9 1080.8 790.4 1067.3 804.8 1063.6"/>
<path d="M483.2 1234.5 C497.0 1238.2 540.0 1251.7 566.2 1256.5 C592.5 1261.3 615.3 1263.2 640.7 1263.2 C666.1 1263.2 691.1 1261.3 718.5 1256.5 C745.9 1251.7 790.4 1238.2 804.8 1234.5"/>
<path d="M483.2 1363.0 C497.0 1366.7 540.0 1380.2 566.2 1385.0 C592.5 1389.8 615.3 1391.7 640.7 1391.7 C666.1 1391.7 691.1 1389.8 718.5 1385.0 C745.9 1380.2 790.4 1366.7 804.8 1363.0"/>
<path d="M483.0 1362.0 L471.3 1400.3 L447.8 1429.6"/>
<path d="M803.8 1362.0 L814.0 1400.3 L840.4 1429.6"/>
<path d="M447.8 1429.6 C455.4 1434.5 473.4 1451.3 493.2 1458.9 C513.0 1466.5 541.9 1471.6 566.5 1475.0 C591.1 1478.4 616.2 1479.4 640.6 1479.4 C665.0 1479.4 688.7 1478.4 713.0 1475.0 C737.3 1471.6 765.0 1466.5 786.2 1458.9 C807.4 1451.3 831.4 1434.5 840.4 1429.6"/>
<path d="M553.3 1384.2 L546.0 1418.0"/>
<path d="M733.5 1384.2 L739.4 1418.0"/>
</g>
<g stroke="#8c8c8c" stroke-width="7">
<path d="M483.2 710.7 L483.2 1363.0"/>
<path d="M804.8 710.7 L804.8 1363.0"/>
</g>
<g stroke="#868686" stroke-width="8.6">
<path d="M430.3 228.3 C435.4 224.9 450.1 214.2 460.8 208.0 C471.5 201.8 483.3 195.3 494.6 191.1 C505.9 186.9 519.2 184.9 528.5 182.6 C537.8 180.3 540.2 179.0 550.5 177.5 C560.8 176.0 574.4 174.4 590.0 173.5 C605.6 172.6 626.0 172.0 644.0 172.0 C662.0 172.0 682.2 172.3 698.0 173.5 C713.8 174.7 726.1 176.5 738.5 179.2 C750.9 181.8 761.0 185.7 772.3 189.4 C783.6 193.1 794.9 196.4 806.2 201.2 C817.5 206.0 832.1 213.7 840.0 218.2 C847.9 222.7 851.3 226.6 853.6 228.3"/>
<path d="M471.5 1398.7 C476.5 1400.6 491.8 1406.6 501.6 1410.2 C511.4 1413.8 521.9 1417.8 530.3 1420.2 C538.7 1422.6 542.2 1422.8 551.8 1424.5 C561.3 1426.2 576.9 1428.9 587.6 1430.3 C598.3 1431.7 606.8 1432.5 616.2 1433.1 C625.6 1433.7 634.7 1434.0 644.0 1434.0 C653.3 1434.0 662.7 1433.7 672.0 1433.1 C681.3 1432.5 689.3 1431.7 700.0 1430.3 C710.7 1428.9 726.4 1426.2 736.0 1424.5 C745.6 1422.8 749.2 1422.6 757.5 1420.2 C765.8 1417.8 776.6 1413.8 786.0 1410.2 C795.4 1406.6 809.3 1400.6 814.0 1398.7"/>
</g>
<g stroke="#7e7e7e" stroke-width="10.5" stroke-linecap="butt" stroke-dasharray="5 2">
<path d="M430.3 229.5 C435.4 226.1 450.1 215.2 460.8 209.0 C471.5 202.8 483.3 196.3 494.6 192.1 C505.9 187.9 519.6 185.6 528.5 183.6 C537.4 181.6 544.8 180.4 548.0 179.8"/>
<path d="M739.5 180.5 C745.0 182.2 761.2 186.8 772.3 190.4 C783.4 194.0 794.9 197.4 806.2 202.2 C817.5 207.0 832.1 214.7 840.0 219.2 C847.9 223.7 851.3 227.6 853.6 229.3"/>
<path d="M471.5 1399.5 C476.5 1401.4 491.8 1407.4 501.6 1411.0 C511.4 1414.6 522.9 1418.8 530.3 1421.0 C537.7 1423.2 543.4 1423.9 546.0 1424.5"/>
<path d="M741.0 1424.5 C743.8 1423.9 750.0 1423.2 757.5 1421.0 C765.0 1418.8 776.6 1414.6 786.0 1411.0 C795.4 1407.4 809.3 1401.4 814.0 1399.5"/>
</g>
<path d="M598 1437 Q644 1441 690 1437" stroke="#a4a4a4" stroke-width="13" stroke-linecap="butt"/>
<g stroke="#8c8c8c" stroke-width="8.3" stroke-linecap="butt" stroke-dasharray="8 11.6" filter="url(#bd)">
<path d="M436.8 871.0 C436.8 885.8 436.9 941.2 436.8 959.9 C436.7 978.6 437.4 975.1 436.2 983.0 C435.0 990.9 434.8 996.9 429.5 1007.0 C424.2 1017.1 413.6 1030.7 404.4 1043.8 C395.2 1056.9 385.5 1073.7 374.5 1085.7 C363.5 1097.7 348.5 1109.4 338.5 1115.6 C328.5 1121.8 323.1 1123.5 314.6 1123.0 C306.1 1122.5 295.6 1119.8 287.6 1112.6 C279.6 1105.4 274.6 1091.7 266.6 1079.7 C258.6 1067.7 251.7 1050.8 239.7 1040.8 C227.7 1030.8 210.5 1024.3 194.8 1019.8 C179.1 1015.3 153.6 1014.8 145.4 1013.8" stroke-dashoffset="15.2"/>
<path d="M331.0 871.0 C331.0 875.8 330.5 878.5 331.0 900.0 C331.5 921.5 333.0 965.1 334.0 1000.0 C335.0 1034.9 336.5 1091.3 337.0 1109.6" stroke-dashoffset="15.9"/>
<path d="M419.4 1120.0 C412.4 1121.3 390.5 1122.8 377.5 1127.6 C364.5 1132.4 347.2 1136.6 341.5 1148.6 C335.8 1160.6 342.5 1176.0 343.0 1199.5 C343.5 1223.0 343.8 1266.8 344.5 1289.3 C345.2 1311.8 345.0 1323.8 347.5 1334.3 C350.0 1344.8 347.5 1350.0 359.5 1352.0 C371.5 1354.0 407.4 1349.5 419.4 1346.0 C431.4 1342.5 428.9 1366.4 431.4 1331.0 C433.9 1295.6 433.9 1166.5 434.4 1133.6"/>
<path d="M453.8 1075.0 C453.8 1095.8 453.8 1156.7 453.8 1200.0 C453.8 1243.3 455.1 1309.0 453.8 1335.0 C452.5 1361.0 451.6 1350.8 446.0 1356.0 C440.4 1361.2 434.9 1362.4 420.0 1366.0 C405.1 1369.6 367.1 1375.7 356.5 1377.6"/>
<path d="M850.9 871.0 C850.9 885.8 850.8 940.9 850.9 959.9 C851.0 978.9 850.5 977.3 851.5 985.0 C852.5 992.7 852.0 996.2 857.0 1006.0 C862.0 1015.8 871.2 1030.0 881.8 1043.8 C892.4 1057.6 909.8 1077.2 920.8 1088.7 C931.8 1100.2 941.2 1107.1 947.7 1112.6 C954.2 1118.1 952.7 1120.4 959.7 1121.6 C966.7 1122.8 981.1 1122.5 989.6 1120.0 C998.1 1117.5 1004.6 1114.3 1010.6 1106.6 C1016.6 1098.9 1019.1 1084.7 1025.6 1073.7 C1032.1 1062.7 1037.5 1049.8 1049.5 1040.8 C1061.5 1031.8 1082.0 1024.3 1097.5 1019.8 C1113.0 1015.3 1134.9 1014.8 1142.4 1013.8" stroke-dashoffset="15.2"/>
<path d="M957.5 871.0 C957.3 875.8 957.4 875.2 956.5 900.0 C955.6 924.8 953.2 984.9 952.2 1019.8 C951.2 1054.7 951.0 1094.6 950.7 1109.6" stroke-dashoffset="15.2"/>
<path d="M859.4 1121.6 C866.6 1122.6 890.1 1124.6 902.8 1127.6 C915.5 1130.6 929.0 1132.6 935.7 1139.6 C942.4 1146.6 942.2 1154.5 943.2 1169.5 C944.2 1184.5 942.2 1209.4 941.7 1229.4 C941.2 1249.4 941.2 1271.8 940.2 1289.3 C939.2 1306.8 936.5 1326.8 935.7 1334.3"/>
<path d="M854.9 1121.6 C854.1 1124.6 850.9 1106.6 850.4 1139.6 C849.9 1172.5 850.1 1286.3 851.9 1319.3 C853.6 1352.2 852.9 1332.3 860.9 1337.3 C868.9 1342.3 888.3 1346.8 899.8 1349.2 C911.3 1351.7 924.7 1351.5 929.7 1352.0"/>
<path d="M832.4 1070.7 C832.4 1092.2 832.4 1156.0 832.4 1200.0 C832.4 1244.0 830.1 1308.4 832.4 1335.0 C834.6 1361.6 838.0 1353.8 845.9 1359.6 C853.8 1365.4 866.0 1367.0 880.0 1370.0 C894.0 1373.0 921.4 1376.3 929.7 1377.6"/>
<rect x="295.1" y="1013.3" width="8" height="8" fill="#8c8c8c" stroke="none"/>
<rect x="307.4" y="1023.8" width="8" height="8" fill="#8c8c8c" stroke="none"/>
<rect x="291.2" y="1032.2" width="8" height="8" fill="#8c8c8c" stroke="none"/>
<rect x="308.1" y="1043.9" width="8" height="8" fill="#8c8c8c" stroke="none"/>
<rect x="291.8" y="1053.0" width="8" height="8" fill="#8c8c8c" stroke="none"/>
<rect x="303.5" y="1063.5" width="8" height="8" fill="#8c8c8c" stroke="none"/>
<rect x="970.5" y="1019.0" width="8" height="8" fill="#8c8c8c" stroke="none"/>
<rect x="986.0" y="1019.0" width="8" height="8" fill="#8c8c8c" stroke="none"/>
<rect x="970.5" y="1037.5" width="8" height="8" fill="#8c8c8c" stroke="none"/>
<rect x="986.0" y="1037.5" width="8" height="8" fill="#8c8c8c" stroke="none"/>
<rect x="970.5" y="1056.0" width="8" height="8" fill="#8c8c8c" stroke="none"/>
<rect x="986.0" y="1056.0" width="8" height="8" fill="#8c8c8c" stroke="none"/>
</g>
<g stroke="#8c8c8c" stroke-width="5.5">
<rect x="-9" y="-27" width="18" height="54" rx="9" transform="translate(296.6,799.5) rotate(-5)"/>
<rect x="-9" y="-27" width="18" height="54" rx="9" transform="translate(991.1,799.5) rotate(5)"/>
</g>
<circle cx="164.6" cy="432.0" r="72.3" stroke="#a2a2a2" stroke-width="24.6"/>
<circle cx="164.6" cy="432.0" r="63" stroke="#8e8e8e" stroke-width="5.5"/>
<circle cx="164.6" cy="432.0" r="68.3" stroke="#b4b4b4" stroke-width="2.6"/>
<circle cx="164.6" cy="432.0" r="76" stroke="#989898" stroke-width="4"/>
<circle cx="1121.4" cy="432.4" r="72.3" stroke="#a2a2a2" stroke-width="24.6"/>
<circle cx="1121.4" cy="432.4" r="63" stroke="#8e8e8e" stroke-width="5.5"/>
<circle cx="1121.4" cy="432.4" r="68.3" stroke="#b4b4b4" stroke-width="2.6"/>
<circle cx="1121.4" cy="432.4" r="76" stroke="#989898" stroke-width="4"/>
<circle cx="163.9" cy="1124.6" r="72.3" stroke="#a2a2a2" stroke-width="24.6"/>
<circle cx="163.9" cy="1124.6" r="63" stroke="#8e8e8e" stroke-width="5.5"/>
<circle cx="163.9" cy="1124.6" r="68.3" stroke="#b4b4b4" stroke-width="2.6"/>
<circle cx="163.9" cy="1124.6" r="76" stroke="#989898" stroke-width="4"/>
<circle cx="1121.4" cy="1126.8" r="72.3" stroke="#a2a2a2" stroke-width="24.6"/>
<circle cx="1121.4" cy="1126.8" r="63" stroke="#8e8e8e" stroke-width="5.5"/>
<circle cx="1121.4" cy="1126.8" r="68.3" stroke="#b4b4b4" stroke-width="2.6"/>
<circle cx="1121.4" cy="1126.8" r="76" stroke="#989898" stroke-width="4"/>
<circle cx="1360.8" cy="1194.7" r="94" stroke="#767676" stroke-width="10" stroke-dasharray="0.1 24.51" filter="url(#bd)"/>
<g stroke="#5c5c5c" stroke-width="5" filter="url(#bd)">
<path d="M1308 1040 L1328 1040 L1318 1056 L1305 1068 M1320 1054 L1334 1068"/>
<path d="M1340 1056 L1356 1044 L1372 1062"/><circle cx="1368" cy="1040" r="3" stroke-width="2.5"/>
<path d="M1374 1040 L1402 1040 L1392 1052 M1388 1046 C1388 1058 1384 1064 1378 1069"/>
</g>
</g>
<g class="lb" filter="url(#gs)">
<text transform="translate(817.78,132.25) scale(0.9529,1)">A</text>
<path transform="translate(843.60,133.20)" d="M6.2-27.6H12.3V0H6.3V-21.3L0-17.5V-22.3Z"/>
<text transform="translate(488.78,176.55) scale(0.9529,1)">A</text>
<path transform="translate(514.50,177.50)" d="M6.2-27.6H12.3V0H6.3V-21.3L0-17.5V-22.3Z"/>
<text transform="translate(224.92,313.65) scale(0.9875,1)">X</text>
<text transform="translate(251.82,313.65) scale(0.9875,1)">X</text>
<text transform="translate(261.00,447.25) scale(0.9267,1)">W</text>
<text transform="translate(298.35,447.25) scale(1.0635,1)">2</text>
<text transform="translate(593.82,422.95) scale(0.8902,1)">P</text>
<text transform="translate(619.33,422.95) scale(1.0672,1)">3</text>
<text transform="translate(985.32,482.85) scale(0.8902,1)">P</text>
<text transform="translate(1010.53,482.85) scale(1.0672,1)">3</text>
<text transform="translate(236.20,654.75) scale(0.9267,1)">W</text>
<text transform="translate(273.05,654.75) scale(1.0635,1)">2</text>
<text transform="translate(230.72,752.95) scale(0.9875,1)">X</text>
<text transform="translate(257.62,752.95) scale(0.9875,1)">X</text>
<text transform="translate(193.08,879.05) scale(0.9529,1)">A</text>
<text transform="translate(825.92,812.05) scale(1.0512,1)">U</text>
<path transform="translate(856.30,813.00)" d="M6.2-27.6H12.3V0H6.3V-21.3L0-17.5V-22.3Z"/>
<text transform="translate(96.28,989.85) scale(0.9529,1)">A</text>
<text transform="translate(123.83,989.85) scale(1.0672,1)">3</text>
<text transform="translate(1150.58,959.25) scale(0.9529,1)">A</text>
<text transform="translate(1177.83,959.25) scale(1.0672,1)">3</text>
<text transform="translate(990.58,973.75) scale(0.9529,1)">A</text>
<path transform="translate(1016.45,974.70)" d="M6.2-27.6H12.3V0H6.3V-21.3L0-17.5V-22.3Z"/>
<text transform="translate(214.18,1046.65) scale(0.9529,1)">A</text>
<text transform="translate(407.48,1054.95) scale(0.9529,1)">A</text>
<path transform="translate(432.90,1055.90)" d="M6.2-27.6H12.3V0H6.3V-21.3L0-17.5V-22.3Z"/>
<text transform="translate(903.68,1141.05) scale(0.9529,1)">A</text>
<path transform="translate(929.70,1142.00)" d="M6.2-27.6H12.3V0H6.3V-21.3L0-17.5V-22.3Z"/>
<text transform="translate(975.58,1157.05) scale(0.9529,1)">A</text>
<path transform="translate(1001.60,1158.00)" d="M6.2-27.6H12.3V0H6.3V-21.3L0-17.5V-22.3Z"/>
<text transform="translate(966.78,1244.05) scale(0.9529,1)">A</text>
<path transform="translate(992.70,1245.00)" d="M6.2-27.6H12.3V0H6.3V-21.3L0-17.5V-22.3Z"/>
<text transform="translate(966.08,1308.15) scale(0.9529,1)">A</text>
<path transform="translate(991.70,1309.10)" d="M6.2-27.6H12.3V0H6.3V-21.3L0-17.5V-22.3Z"/>
<text transform="translate(549.92,1332.80) scale(0.8902,1)">P</text>
<text transform="translate(575.53,1332.80) scale(1.0672,1)">3</text>
<text transform="translate(738.30,1329.65) scale(0.9267,1)">W</text>
<text transform="translate(775.20,1329.65) scale(1.0635,1)">2</text>
<text transform="translate(624.72,1368.25) scale(0.9875,1)">X</text>
<text transform="translate(651.22,1368.25) scale(0.9875,1)">X</text>
<text transform="translate(622.52,1391.55) scale(1.0512,1)">U</text>
<path transform="translate(653.95,1392.50)" d="M6.2-27.6H12.3V0H6.3V-21.3L0-17.5V-22.3Z"/>
<text transform="translate(519.18,1464.05) scale(0.9529,1)">A</text>
<path transform="translate(543.95,1465.00)" d="M6.2-27.6H12.3V0H6.3V-21.3L0-17.5V-22.3Z"/>
<text transform="translate(567.98,1464.05) scale(0.9529,1)">A</text>
<path transform="translate(593.50,1465.00)" d="M6.2-27.6H12.3V0H6.3V-21.3L0-17.5V-22.3Z"/>
<text transform="translate(727.98,1464.05) scale(0.9529,1)">A</text>
<path transform="translate(753.30,1465.00)" d="M6.2-27.6H12.3V0H6.3V-21.3L0-17.5V-22.3Z"/>
<text transform="translate(203.58,1409.05) scale(0.9529,1)">A</text>
<text transform="translate(230.13,1409.05) scale(1.0672,1)">3</text>
</g>
</svg></body></html>
